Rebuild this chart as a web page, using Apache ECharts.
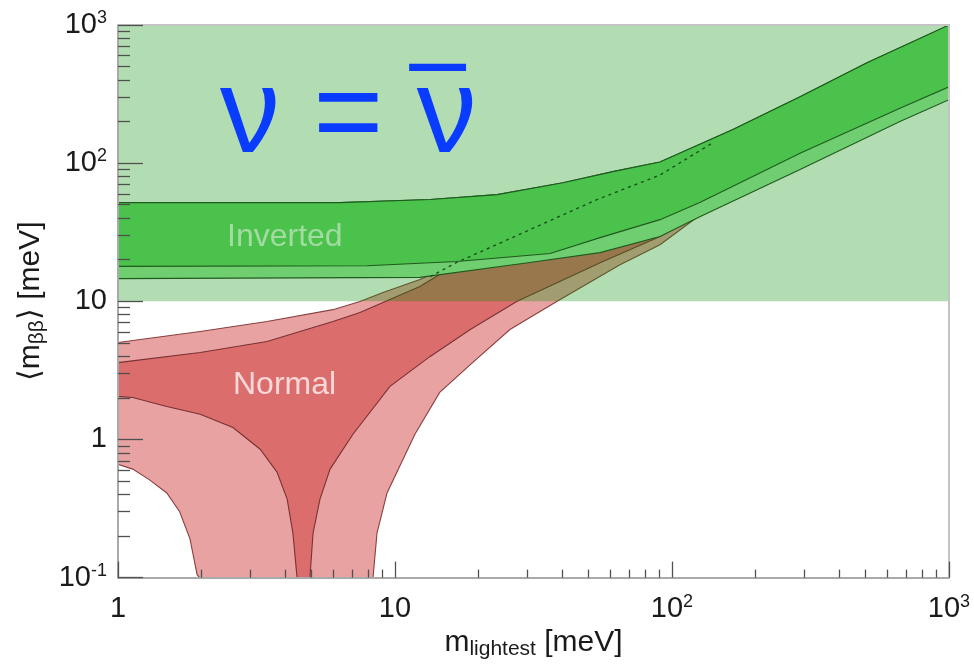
<!DOCTYPE html>
<html>
<head>
<meta charset="utf-8">
<script src="https://cdn.jsdelivr.net/npm/echarts@6/dist/echarts.min.js"></script>
<style>
html,body{margin:0;padding:0;background:#fff;}
#chart{width:974px;height:665px;}
</style>
</head>
<body>
<div id="chart"></div>
<script>
// ---------- data (m in meV, <m_bb> in meV) ----------
// background region rectangle
const bgRectM = [1, 1000];
const bgRectV = [10, 1000];

// Inverted hierarchy: upper edge, inner edge, outer lower edge
const ihTopM = [1, 6.33, 13.4, 23.4, 40.4, 61.2, 90.5, 166, 290, 506, 1000];
const ihTopV = [51.8, 51.8, 54.5, 59.2, 72.2, 86.8, 102, 175, 303, 533, 1000];
const ihMidM = [1, 7.93, 16.7, 36.3, 55, 90.5, 126, 290, 665, 1000];
const ihMidV = [17.9, 18.1, 19.4, 22.2, 28.9, 39, 52, 118, 250, 357];
const ihLowM = [1, 12.3, 30.7, 55, 90.5, 126, 290, 665, 1000];
const ihLowV = [14.6, 14.9, 19.1, 22.5, 29.4, 41, 90, 200, 288];

// Normal hierarchy: outer band
const nhOutTopM = [1, 1.98, 3.45, 5.97, 7.47, 9.05, 12.3, 16.7, 30.7, 53.6, 90.5, 166, 290, 665, 1000];
const nhOutTopV = [5.03, 6.04, 7.14, 8.7, 9.96, 11.6, 14.4, 19.1, 33, 54.5, 82, 160, 280, 640, 960];
const nhOutLowM = [1, 1.13, 1.30, 1.50, 1.67, 1.82, 1.93, 1.97, 8.33, 8.61, 9.36, 10.4, 11.8, 14.5, 19.1, 26.0, 38.5, 64.9, 90.5, 126, 290, 665, 1000];
const nhOutLowV = [0.66, 0.61, 0.51, 0.41, 0.30, 0.19, 0.105, 0.1, 0.1, 0.21, 0.41, 0.64, 1.09, 2.19, 3.61, 6.25, 10, 18.4, 25.7, 42, 92, 205, 292];

// Normal hierarchy: inner band
const nhInTopM = [1, 1.98, 3.45, 5.97, 7.47, 9.05, 12.3, 14, 16.7, 30.7, 53.6, 90.5, 166, 290, 665, 1000];
const nhInTopV = [3.6, 4.26, 5.11, 7.14, 8.3, 9.8, 12.8, 15, 19.1, 33, 54.5, 82, 160, 280, 640, 960];
const nhInLowM = [1, 1.13, 1.50, 1.98, 2.60, 3.26, 3.75, 4.08, 4.28, 4.43, 4.93, 5.06, 5.36, 5.83, 7.05, 9.59, 13.4, 18.7, 27.6, 55, 90.5, 126, 290, 665, 1000];
const nhInLowV = [2.05, 2.01, 1.73, 1.52, 1.22, 0.85, 0.58, 0.37, 0.21, 0.1, 0.1, 0.21, 0.37, 0.61, 1.09, 2.42, 3.99, 6.25, 10, 19, 29.4, 44, 95, 210, 298];

// dashed curve inside the inverted band
const dashM = [13.4, 16.7, 30.7, 53.6, 90.5, 140];
const dashV = [15.1, 19.1, 33.0, 54.5, 82, 140];

// ticks
const xMajor = [1, 10, 100, 1000];
const xMinor = [2,3,4,5,6,7,8,9,20,30,40,50,60,70,80,90,200,300,400,500,600,700,800,900];
const yMajor = [0.1, 1, 10, 100, 1000];
const yMinor = [0.2,0.3,0.4,0.5,0.6,0.7,0.8,0.9,2,3,4,5,6,7,8,9,20,30,40,50,60,70,80,90,200,300,400,500,600,700,800,900];

// labels
const xTitle = ['m', 'lightest', ' [meV]'];
const yTitle = ['⟨m', 'ββ', '⟩ [meV]'];
const labelInverted = 'Inverted';
const labelNormal = 'Normal';
const labelNu = 'ν = ν';
const labelBar = '¯';

// ---------- chart ----------
const FONT = '"Liberation Sans", Arial, Helvetica, sans-serif';
const chart = echarts.init(document.getElementById('chart'), null, {renderer: 'canvas'});

function band(name, upM, upV, loM, loV, fill, stroke, z) {
  return {
    type: 'custom', name: name, coordinateSystem: 'cartesian2d',
    xAxisIndex: 0, yAxisIndex: 0, z: z, silent: true, animation: false,
    data: [[upM[0], upV[0]]],
    encode: {x: 0, y: 1},
    renderItem: function (params, api) {
      const pts = [];
      for (let i = 0; i < upM.length; i++) pts.push(api.coord([upM[i], upV[i]]));
      for (let i = loM.length - 1; i >= 0; i--) pts.push(api.coord([loM[i], loV[i]]));
      return {
        type: 'polygon', shape: {points: pts},
        style: {fill: fill, stroke: stroke || null, lineWidth: stroke ? 1.1 : 0}
      };
    }
  };
}

function powLabel(v) {
  const e = Math.round(Math.log10(v));
  if (e === 0) return '{b|1}';
  if (e === 1) return '{b|10}';
  return '{b|10}{s|' + (e < 0 ? '-1' : String(e)) + '}';
}

const labelRich = {
  b: {fontSize: 29, fontFamily: FONT, color: '#1a1a1a', lineHeight: 32},
  s: {fontSize: 18, fontFamily: FONT, color: '#1a1a1a', verticalAlign: 'top', lineHeight: 17}
};
const titleRich = {
  m: {fontSize: 30, fontFamily: FONT, color: '#1a1a1a', lineHeight: 34},
  sub: {fontSize: 21, fontFamily: FONT, color: '#1a1a1a', verticalAlign: 'bottom', lineHeight: 14}
};

const axisLineStyle = {color: '#a9a9a9', width: 2};
const tickStyle = {color: '#505050', width: 1.3};

const option = {
  backgroundColor: '#ffffff',
  animation: false,
  grid: {left: 118, right: 25, top: 25, bottom: 87, containLabel: false},
  xAxis: [
    {
      type: 'log', logBase: 10, min: 1, max: 1000, position: 'bottom', z: 10,
      axisLine: {show: true, onZero: false, lineStyle: axisLineStyle},
      axisTick: {show: true, inside: true, length: 16, customValues: xMajor, lineStyle: tickStyle},
      axisLabel: {show: true, customValues: xMajor, margin: 15, formatter: powLabel, rich: labelRich},
      splitLine: {show: false}, minorTick: {show: false},
      name: '{m|' + xTitle[0] + '}{sub|' + xTitle[1] + '}{m|' + xTitle[2] + '}',
      nameLocation: 'middle', nameGap: 41, nameTextStyle: {rich: titleRich}
    },
    {
      type: 'log', logBase: 10, min: 1, max: 1000, position: 'bottom', z: 10,
      axisLine: {show: false},
      axisTick: {show: true, inside: true, length: 8, customValues: xMinor, lineStyle: tickStyle},
      axisLabel: {show: false}, splitLine: {show: false}
    },
    {
      type: 'log', logBase: 10, min: 1, max: 1000, position: 'top', z: 10,
      axisLine: {show: true, onZero: false, lineStyle: {color: '#c4c4c4', width: 2}},
      axisTick: {show: false}, axisLabel: {show: false}, splitLine: {show: false}
    }
  ],
  yAxis: [
    {
      type: 'log', logBase: 10, min: 0.1, max: 1000, position: 'left', z: 10,
      axisLine: {show: true, onZero: false, lineStyle: axisLineStyle},
      axisTick: {show: true, inside: true, length: 25, customValues: yMajor, lineStyle: tickStyle},
      axisLabel: {show: true, customValues: yMajor, margin: 11, formatter: powLabel, rich: labelRich},
      splitLine: {show: false}, minorTick: {show: false},
      name: '{m|' + yTitle[0] + '}{sub|' + yTitle[1] + '}{m|' + yTitle[2] + '}',
      nameLocation: 'middle', nameGap: 61, nameRotate: 90, nameTextStyle: {rich: titleRich}
    },
    {
      type: 'log', logBase: 10, min: 0.1, max: 1000, position: 'left', z: 10,
      axisLine: {show: false},
      axisTick: {show: true, inside: true, length: 12, customValues: yMinor, lineStyle: tickStyle},
      axisLabel: {show: false}, splitLine: {show: false}
    },
    {
      type: 'log', logBase: 10, min: 0.1, max: 1000, position: 'right', z: 10,
      axisLine: {show: true, onZero: false, lineStyle: {color: '#c4c4c4', width: 2}},
      axisTick: {show: false}, axisLabel: {show: false}, splitLine: {show: false}
    }
  ],
  series: [
    band('NH outer', nhOutTopM, nhOutTopV, nhOutLowM, nhOutLowV, '#e9a2a2', '#8a3f3f', 2),
    band('NH inner', nhInTopM, nhInTopV, nhInLowM, nhInLowV, '#dc6d6d', '#7a3232', 3),
    band('region', bgRectM, [bgRectV[1], bgRectV[1]], bgRectM, [bgRectV[0], bgRectV[0]], 'rgba(0,144,0,0.30)', null, 4),
    band('IH outer', ihTopM, ihTopV, ihLowM, ihLowV, '#6fce6f', '#1f5a1f', 5),
    band('IH inner', ihTopM, ihTopV, ihMidM, ihMidV, '#4bc24b', '#1f5a1f', 6),
    {
      type: 'line', name: 'NH max', xAxisIndex: 0, yAxisIndex: 0, z: 7,
      data: dashM.map((m, i) => [m, dashV[i]]),
      showSymbol: false, silent: true, animation: false,
      lineStyle: {color: '#1d4f1d', width: 1.4, type: [3, 4]}
    }
  ],
  graphic: [
    {type: 'text', left: 227, top: 221, z: 20, silent: true,
     style: {text: labelInverted, font: '32px ' + FONT, fill: '#a3dba3'}},
    {type: 'text', left: 233, top: 369, z: 20, silent: true,
     style: {text: labelNormal, font: '32px ' + FONT, fill: '#f7d8d8'}},
    {type: 'text', left: 220, top: 59, z: 20, silent: true,
     style: {text: labelNu, font: '120px ' + FONT, fill: '#0a3cff'}},
    {type: 'text', x: 410, y: 63, originX: 0, originY: 6, scaleY: 1.6, z: 20, silent: true,
     style: {text: labelBar, font: 'bold 100px ' + FONT, fill: '#0a3cff', align: 'left', verticalAlign: 'top'}}
  ]
};
chart.setOption(option);
</script>
</body>
</html>
